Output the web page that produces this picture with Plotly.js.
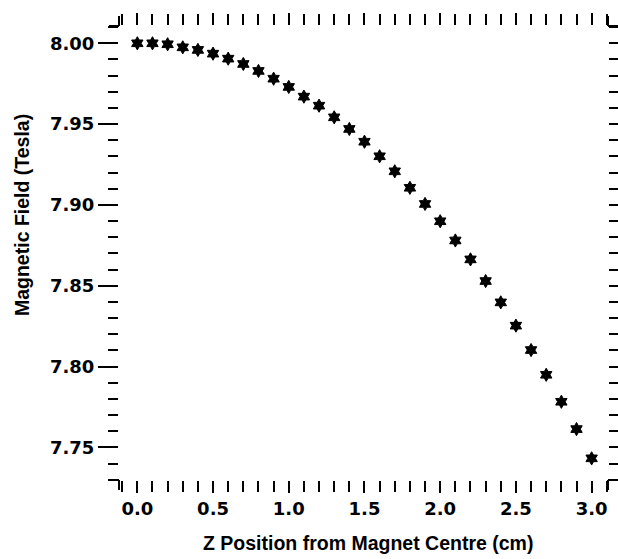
<!DOCTYPE html>
<html>
<head>
<meta charset="utf-8">
<script src="https://cdn.plot.ly/plotly-3.0.1.min.js"></script>
<style>html,body{margin:0;padding:0;background:#fff;}#chart{width:618px;height:559px;}</style>
</head>
<body>
<div id="chart"></div>
<script>
// Data
const zPosition = [0.0,0.1,0.2,0.3,0.4,0.5,0.6,0.7,0.8,0.9,1.0,1.1,1.2,1.3,1.4,1.5,1.6,1.7,1.8,1.9,2.0,2.1,2.2,2.3,2.4,2.5,2.6,2.7,2.8,2.9,3.0];
const fieldTesla = [8.0000,8.0000,7.9994,7.9975,7.9959,7.9936,7.9905,7.9872,7.9829,7.9781,7.9730,7.9670,7.9614,7.9542,7.9470,7.9391,7.9301,7.9208,7.9106,7.9006,7.8899,7.8780,7.8663,7.8529,7.8397,7.8253,7.8102,7.7949,7.7782,7.7613,7.7432];
const xTickVals = [0.0,0.5,1.0,1.5,2.0,2.5,3.0];
const xTickText = ["0.0","0.5","1.0","1.5","2.0","2.5","3.0"];
const yTickVals = [7.75,7.80,7.85,7.90,7.95,8.00];
const yTickText = ["7.75","7.80","7.85","7.90","7.95","8.00"];
const xTitle = "Z Position from Magnet Centre (cm)";
const yTitle = "Magnetic Field (Tesla)";

const tickFont = {family: "DejaVu Sans", size: 18, color: "#000", weight: "bold"};
const titleFont = {family: "Liberation Sans, Arial, sans-serif", size: 19.5, color: "#000", weight: "bold"};

const trace = {
  x: zPosition, y: fieldTesla, type: "scatter", mode: "markers",
  marker: {symbol: "hexagram", size: 10, color: "#000", line: {width: 1, color: "#000"}},
  hoverinfo: "skip"
};

function cornerLine(xa, ya, dx0, dx1, dy0, dy1) {
  return {type: "line", xref: "paper", yref: "paper", xsizemode: "pixel", ysizemode: "pixel",
    xanchor: xa, yanchor: ya, x0: dx0, x1: dx1, y0: dy0, y1: dy1, line: {color: "#000", width: 2}};
}

const layout = {
  width: 618, height: 559,
  margin: {l: 119, r: 10, t: 26, b: 79, pad: 0},
  paper_bgcolor: "#fff", plot_bgcolor: "#fff",
  showlegend: false,
  xaxis: {
    range: [-0.121, 3.108], showgrid: false, zeroline: false, showline: false,
    mirror: "ticks", ticks: "outside", ticklen: 12, tickwidth: 2, tickcolor: "#000",
    tickvals: xTickVals, ticktext: xTickText, tickfont: tickFont, ticklabelstandoff: 0,
    minor: {dtick: 0.1, tick0: 0, ticks: "outside", ticklen: 11, tickwidth: 2, tickcolor: "#000", showgrid: false}
  },
  yaxis: {
    range: [7.7298, 8.0107], showgrid: false, zeroline: false, showline: false,
    mirror: "ticks", ticks: "outside", ticklen: 20, tickwidth: 2, tickcolor: "#000",
    tickvals: yTickVals, ticktext: yTickText, tickfont: tickFont, ticklabelstandoff: 0,
    minor: {dtick: 0.01, tick0: 7.75, ticks: "outside", ticklen: 10, tickwidth: 2, tickcolor: "#000", showgrid: false}
  },
  annotations: [
    {text: xTitle, xref: "paper", yref: "paper", x: 0.509, y: -0.139, xanchor: "center", yanchor: "middle",
     showarrow: false, font: titleFont},
    {text: yTitle, xref: "paper", yref: "paper", x: -0.198, y: 0.584, xanchor: "center", yanchor: "middle",
     textangle: -90, showarrow: false, font: titleFont}
  ],
  shapes: [
    cornerLine(0, 1, 0, -10, 0, 0), cornerLine(0, 1, 0, 0, 0, 10),
    cornerLine(0, 0, 0, -10, 0, 0), cornerLine(0, 0, 0, 0, 0, -10),
    cornerLine(1, 1, 0, 10, 0, 0), cornerLine(1, 1, 0, 0, 0, 10),
    cornerLine(1, 0, 0, 10, 0, 0), cornerLine(1, 0, 0, 0, 0, -10)
  ]
};

Plotly.newPlot("chart", [trace], layout, {displayModeBar: false, staticPlot: true});
</script>
</body>
</html>
